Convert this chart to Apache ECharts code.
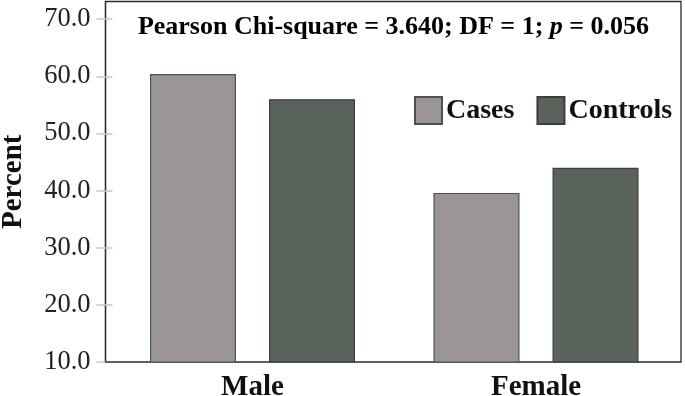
<!DOCTYPE html>
<html>
<head>
<meta charset="utf-8">
<script src="https://cdn.jsdelivr.net/npm/echarts@6/dist/echarts.min.js"></script>
<style>html,body{margin:0;padding:0;background:#fff}#c{width:685px;height:396px}</style>
</head>
<body>
<div id="c"></div>
<script>
var categories = ['Male', 'Female'];
var seriesNames = ['Cases', 'Controls'];
var cases = [60.4, 39.6];
var controls = [56.0, 44.0];
var yTicks = [10, 20, 30, 40, 50, 60, 70];
var yTicksInner = [20, 30, 40, 50, 60, 70];
var yMin = 10, yMax = 73.1;
var titleParts = ['Pearson Chi-square = 3.640; DF = 1; ', 'p', ' = 0.056'];
var yName = 'Percent';

var serif = '"Liberation Serif", "Times New Roman", serif';
var chart = echarts.init(document.getElementById('c'), null, {renderer: 'canvas'});
var gridBox = {left: 105.5, right: 4, top: 1.5, bottom: 34};
var gridData = {left: 110.75, right: 7.25, top: 1.5, bottom: 34};

chart.setOption({
  animation: false,
  backgroundColor: '#fff',
  grid: [
    Object.assign({show: true, borderColor: '#2a2a2a', borderWidth: 1.3, backgroundColor: 'transparent', containLabel: false, outerBoundsMode: 'none'}, gridBox),
    Object.assign({show: false, containLabel: false, outerBoundsMode: 'none'}, gridData)
  ],
  graphic: [{
    type: 'text', x: 393.5, y: 27, z: 100,
    style: {
      text: '{b|' + titleParts[0] + '}{i|' + titleParts[1] + '}{b|' + titleParts[2] + '}',
      align: 'center', verticalAlign: 'middle',
      rich: {
        b: {fontFamily: serif, fontWeight: 'bold', fontSize: 26, fill: '#000'},
        i: {fontFamily: serif, fontWeight: 'bold', fontStyle: 'italic', fontSize: 26, fill: '#000'}
      }
    }
  }],
  legend: {
    data: seriesNames, left: 409, top: 91, orient: 'horizontal',
    itemWidth: 27, itemHeight: 27, itemGap: 22, icon: 'rect',
    textStyle: {fontFamily: serif, fontWeight: 'bold', fontSize: 28, color: '#111', padding: [0,0,0,-1]}
  },
  xAxis: [
    {type: 'category', gridIndex: 0, data: categories, show: false},
    {type: 'category', gridIndex: 1, data: categories,
     axisLine: {show: false}, axisTick: {show: false},
     axisLabel: {fontFamily: serif, fontWeight: 'bold', fontSize: 29, color: '#111', margin: 11}}
  ],
  yAxis: [
    {type: 'value', gridIndex: 0, min: yMin, max: yMax, position: 'left',
     name: yName, nameLocation: 'middle', nameGap: 77,
     nameTextStyle: {fontFamily: serif, fontWeight: 'bold', fontSize: 29, color: '#111'},
     splitLine: {show: false},
     axisLine: {show: true, lineStyle: {color: '#2a2a2a', width: 1.3}},
     axisTick: {show: true, length: 9, customValues: yTicks, lineStyle: {color: '#c8c8c8', width: 1.5}},
     axisLabel: {customValues: yTicks, fontFamily: serif, fontSize: 26.5, color: '#222', margin: 15,
                 formatter: function (v) { return Number(v).toFixed(1); }}},
    {type: 'value', gridIndex: 0, min: yMin, max: yMax, position: 'left', offset: 0,
     splitLine: {show: false}, axisLine: {show: false}, axisLabel: {show: false},
     axisTick: {show: true, inside: true, length: 7, customValues: yTicksInner, lineStyle: {color: '#c8c8c8', width: 1.5}}},
    {type: 'value', gridIndex: 1, min: yMin, max: yMax, show: false}
  ],
  series: [
    {name: seriesNames[0], type: 'bar', xAxisIndex: 1, yAxisIndex: 2, data: cases,
     barWidth: 86, barGap: '38.4%',
     itemStyle: {color: '#9a9594', borderColor: '#505050', borderWidth: 1.2}},
    {name: seriesNames[1], type: 'bar', xAxisIndex: 1, yAxisIndex: 2, data: controls,
     barWidth: 86, barGap: '38.4%',
     itemStyle: {color: '#59635b', borderColor: '#3a3f3b', borderWidth: 1.2}}
  ]
});
</script>
</body>
</html>
